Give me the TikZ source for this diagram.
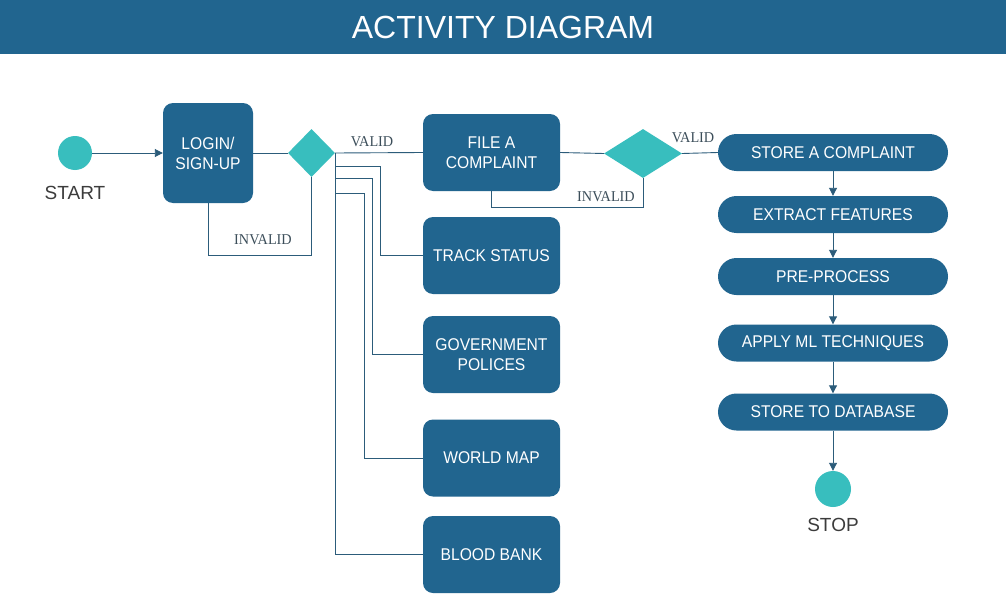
\documentclass[tikz,border=0pt]{standalone}
\usepackage{fontspec}
\setmainfont{Liberation Sans}
\newfontfamily\boxfont{Liberation Sans}[FakeStretch=0.92]
\newfontfamily\labfont{Liberation Serif}[FakeStretch=0.95]
\usetikzlibrary{shapes.geometric,arrows.meta}
\definecolor{boxblue}{RGB}{33,101,143}
\definecolor{teal2}{RGB}{56,190,190}
\definecolor{linec}{RGB}{44,92,122}
\definecolor{labc}{RGB}{60,78,90}
\definecolor{txtc}{RGB}{60,60,60}
\tikzset{
  act/.style={draw=none,fill=boxblue,rounded corners=10pt,minimum width=137pt,minimum height=77pt,inner sep=0pt,align=center,text=white,font=\boxfont\fontsize{17}{20}\selectfont},
  proc/.style={draw=none,fill=boxblue,rounded corners=18.5pt,minimum width=230pt,minimum height=37pt,inner sep=0pt,text=white,font=\boxfont\fontsize{17}{20}\selectfont},
  dec/.style={diamond,fill=teal2,draw=none,inner sep=0pt},
  term/.style={circle,fill=teal2,draw=none,inner sep=0pt},
  conn/.style={draw=linec,line width=0.9pt},
  arr/.style={conn,-{Triangle[length=8pt,width=8pt]}},
  lab/.style={text=labc,font=\labfont\fontsize{15}{17}\selectfont,inner sep=0pt},
  termlab/.style={text=txtc,font=\fontsize{19}{22}\selectfont,inner sep=0pt}
}
\begin{document}
\begin{tikzpicture}[x=1pt,y=-1pt]
\useasboundingbox (0,0) rectangle (1006,594);
\fill[white] (0,0) rectangle (1006,594);
\fill[boxblue] (0,0) rectangle (1006,54);
\node[text=white,font=\fontsize{32}{36}\selectfont] (title) at (503,27) {ACTIVITY DIAGRAM};

\node[term,minimum size=34pt] (start) at (75,153) {};
\node[termlab] (startlab) at (75,193) {START};
\node[act,minimum width=90pt,minimum height=100pt] (login) at (208,153) {LOGIN/\\SIGN-UP};
\node[dec,minimum width=47pt,minimum height=48pt] (d1) at (311.5,153) {};

\node[act] (file) at (491.5,152.5) {FILE A\\COMPLAINT};
\node[act] (track) at (491.5,255.5) {TRACK STATUS};
\node[act] (gov) at (491.5,354.5) {GOVERNMENT\\POLICES};
\node[act] (world) at (491.5,458) {WORLD MAP};
\node[act] (blood) at (491.5,554.5) {BLOOD BANK};

\node[dec,minimum width=78pt,minimum height=49pt] (d2) at (643,153.5) {};

\node[proc] (store) at (833,152.5) {STORE A COMPLAINT};
\node[proc] (extract) at (833,214.5) {EXTRACT FEATURES};
\node[proc] (pre) at (833,276.5) {PRE-PROCESS};
\node[proc] (apply) at (833,343) {APPLY ML TECHNIQUES};
\node[proc] (storedb) at (833,412) {STORE TO DATABASE};
\node[term,minimum size=36pt] (stop) at (833,489) {};
\node[termlab] (stoplab) at (833,525) {STOP};

% connectors
\draw[arr] (start) -- (login);
\draw[conn] (login.east) -- (d1.west);
\draw[conn] (login.south) -- (login.south |- 0,255) -| (d1.south);
\node[lab] (inv1) at (263,240) {INVALID};
\draw[conn] (d1.east) -- (file.west);
\node[lab] (val1) at (372,142) {VALID};
\draw[conn] (d1.east |- 0,166) -- (380,166) |- (track.west);
\draw[conn] (d1.east |- 0,178) -- (372,178) |- (gov.west);
\draw[conn] (d1.east |- 0,193) -- (364,193) |- (world.west);
\draw[conn] (d1.east) |- (blood.west);

\draw[conn] (file.east) -- (d2.west);
\draw[conn] (d2.south) -- (d2.south |- 0,207) -| (file.south);
\node[lab] (inv2) at (606,197) {INVALID};
\draw[conn] (d2.east) -- (store.west);
\node[lab] (val2) at (693,138) {VALID};

\draw[arr] (store) -- (extract);
\draw[arr] (extract) -- (pre);
\draw[arr] (pre) -- (apply);
\draw[arr] (apply) -- (storedb);
\draw[arr] (storedb) -- (stop);
\end{tikzpicture}
\end{document}
